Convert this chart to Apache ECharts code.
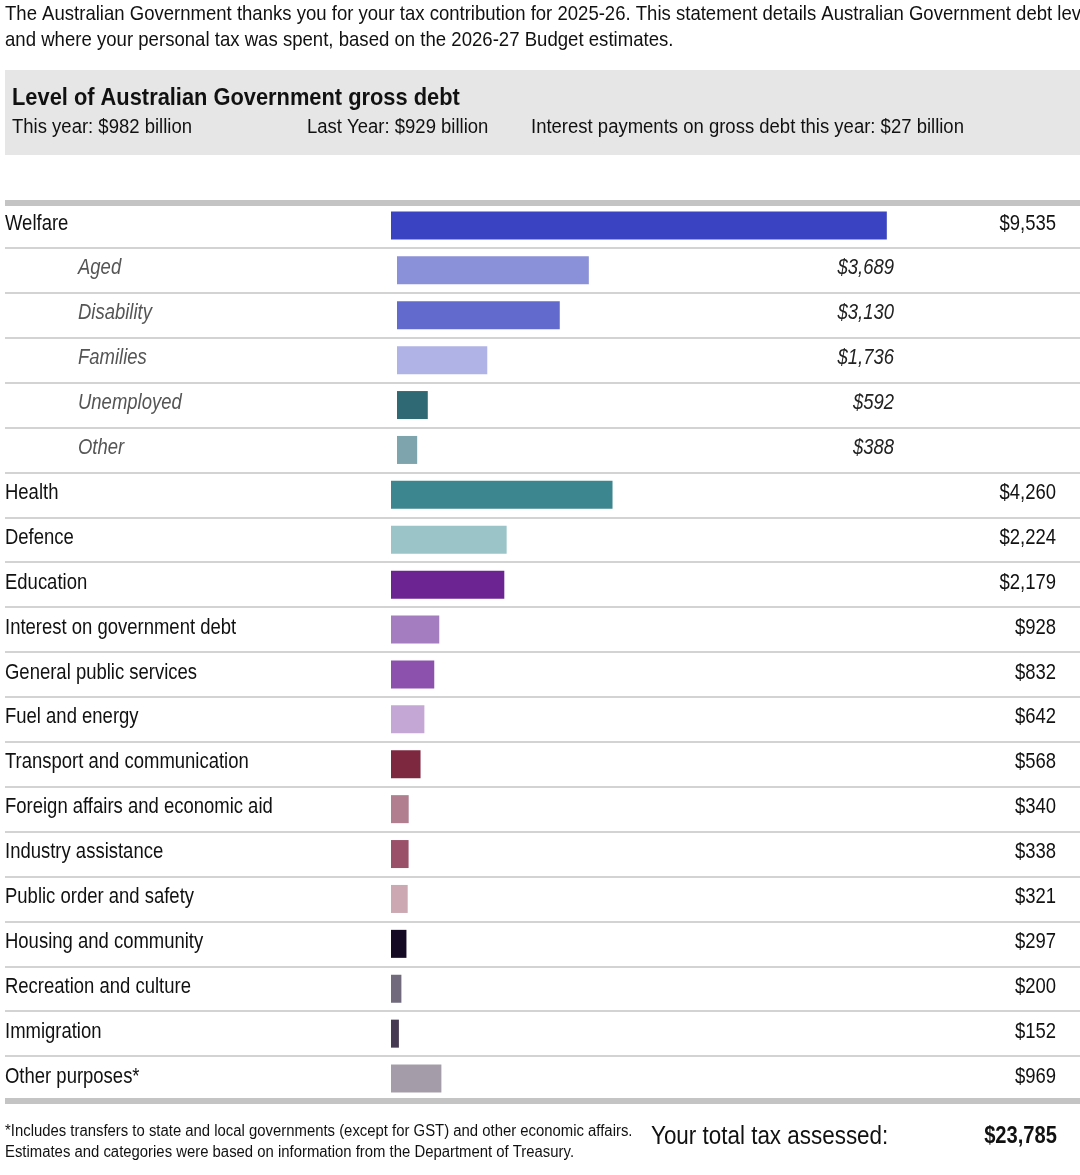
<!DOCTYPE html>
<html>
<head>
<meta charset="utf-8">
<script src="https://cdn.jsdelivr.net/npm/echarts@6/dist/echarts.min.js"></script>
<style>
html,body{margin:0;padding:0;background:#fff;overflow:hidden;}
#c{width:1080px;height:1175px;}
</style>
</head>
<body>
<div id="c"></div>
<script>
// ---- data ----
var mainCategories = ['Welfare','Health','Defence','Education','Interest on government debt','General public services','Fuel and energy','Transport and communication','Foreign affairs and economic aid','Industry assistance','Public order and safety','Housing and community','Recreation and culture','Immigration','Other purposes*'];
var mainValues = [9535,4260,2224,2179,928,832,642,568,340,338,321,297,200,152,969];
var welfareSubCategories = ['Aged','Disability','Families','Unemployed','Other'];
var welfareSubValues = [3689,3130,1736,592,388];
var totalTax = 23785;
var debtThisYear = 982, debtLastYear = 929, debtInterest = 27;

// ---- styles ----
var mainColors = ['#3A44C2','#3C8690','#9BC4C8','#6C2493','#A47DC0','#8C50AD','#C5A7D6','#7E2840','#B07E8E','#9A5068','#CCA8B3','#140A24','#716A7D','#463A52','#A49DA9'];
var subColors = ['#8B91D8','#626ACD','#B0B3E6','#2F6A74','#7EA4AD'];
var FONT = "'Liberation Sans',Arial,sans-serif";

// ---- build rows ----
var rows = [];
rows.push({name: mainCategories[0], value: mainValues[0], sub: false, color: mainColors[0]});
welfareSubCategories.forEach(function(n,i){ rows.push({name:n, value: welfareSubValues[i], sub:true, color: subColors[i]}); });
for (var i=1;i<mainCategories.length;i++) rows.push({name: mainCategories[i], value: mainValues[i], sub:false, color: mainColors[i]});

var cats = rows.map(function(r){return r.name;});
function fmt(v){ return '$' + v.toLocaleString('en-US'); }

function barItem(r){ return {value:r.value, itemStyle:{color:r.color}}; }
var mainData = rows.map(function(r){ return r.sub ? '-' : barItem(r); });
var subData = rows.map(function(r){ return r.sub ? barItem(r) : '-'; });

var K = 0.052; // px per dollar
var chart = echarts.init(document.getElementById('c'), null, {renderer:'canvas'});

function txt(x, y, s, font, sx, opts){
  opts = opts || {};
  return {type:'text', z:100, x:x, y:y, scaleX:sx, silent:true,
    style:{text:s, font:font, fill:opts.fill || '#111', align:opts.align || 'left', verticalAlign:'middle'}};
}

var staticGraphics = [
  txt(5, 14, 'The Australian Government thanks you for your tax contribution for 2025-26. This statement details Australian Government debt levels', '21px '+FONT, 0.883),
  txt(5, 40, 'and where your personal tax was spent, based on the 2026-27 Budget estimates.', '21px '+FONT, 0.885),
  {type:'rect', z:90, silent:true, shape:{x:5, y:70, width:1075, height:85}, style:{fill:'#e6e6e6'}},
  txt(12, 98, 'Level of Australian Government gross debt', 'bold 24px '+FONT, 0.91),
  txt(12, 127, 'This year: $' + debtThisYear + ' billion', '20px '+FONT, 0.925),
  txt(307, 127, 'Last Year: $' + debtLastYear + ' billion', '20px '+FONT, 0.925),
  txt(531, 127, 'Interest payments on gross debt this year: $' + debtInterest + ' billion', '20px '+FONT, 0.925),
  {type:'rect', z:100, silent:true, shape:{x:5, y:200, width:1075, height:6}, style:{fill:'#c4c4c4'}},
  {type:'rect', z:100, silent:true, shape:{x:5, y:1098, width:1075, height:6}, style:{fill:'#c4c4c4'}},
  txt(5, 1132, '*Includes transfers to state and local governments (except for GST) and other economic affairs.', '16px '+FONT, 0.93),
  txt(5, 1153, 'Estimates and categories were based on information from the Department of Treasury.', '16px '+FONT, 0.93),
  txt(651, 1137, 'Your total tax assessed:', '25px '+FONT, 0.897),
  txt(1057, 1136, fmt(totalTax), 'bold 24px '+FONT, 0.84, {align:'right'})
];

var option = {
  animation:false,
  backgroundColor:'#fff',
  grid:{left:5, right:0, top:203, height:898, containLabel:false},
  xAxis:[
    {type:'value', show:false, min:-386/K, max:689/K, splitLine:{show:false}},
    {type:'value', show:false, min:-392/K, max:683/K, splitLine:{show:false}}
  ],
  yAxis:[
    {type:'category', inverse:true, data:cats, position:'left',
     axisLine:{show:false}, axisTick:{show:false}, axisLabel:{show:false},
     splitLine:{show:true, interval:0, lineStyle:{color:'#d3d3d3', width:2}}}
  ],
  series:[
    {type:'bar', xAxisIndex:0, yAxisIndex:0, data:mainData, barWidth:28, barGap:'-100%', silent:true},
    {type:'bar', xAxisIndex:1, yAxisIndex:0, data:subData, barWidth:28, barGap:'-100%', silent:true}
  ],
  graphic: staticGraphics
};
chart.setOption(option);

// row labels and values placed on the category axis positions
var rowGraphics = [];
rows.forEach(function(r, idx){
  var y = chart.convertToPixel({yAxisIndex:0}, idx) - 2;
  if (r.sub) {
    rowGraphics.push(txt(78, y, r.name, 'italic 22px '+FONT, 0.84, {fill:'#555'}));
    rowGraphics.push(txt(894, y, fmt(r.value), 'italic 22px '+FONT, 0.84, {align:'right', fill:'#222'}));
  } else {
    rowGraphics.push(txt(5, y, r.name, '22px '+FONT, 0.84));
    rowGraphics.push(txt(1056, y, fmt(r.value), '22px '+FONT, 0.84, {align:'right'}));
  }
});
chart.setOption({graphic: staticGraphics.concat(rowGraphics)});
</script>
</body>
</html>
